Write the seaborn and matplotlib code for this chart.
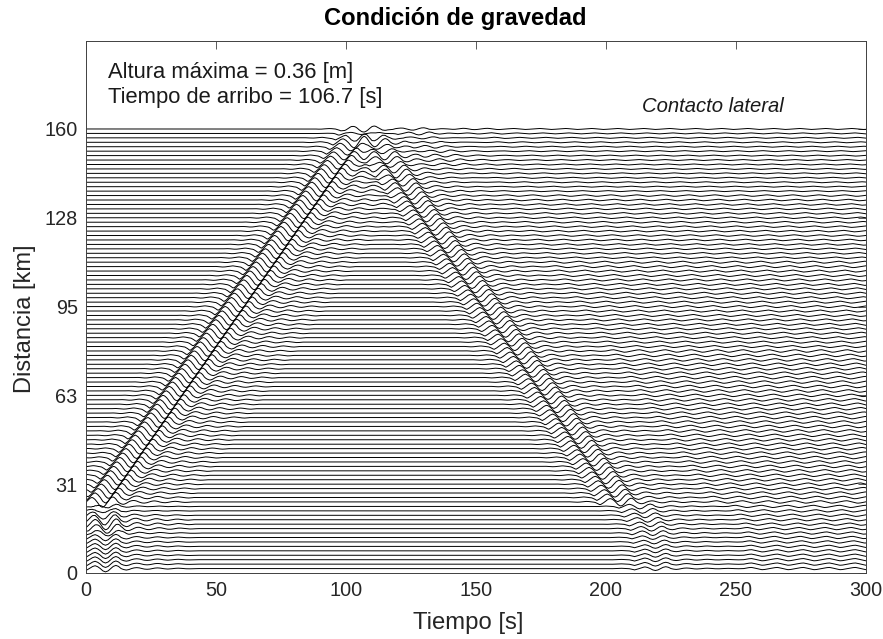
import numpy as np
import pandas as pd
import matplotlib
matplotlib.use("Agg")
import matplotlib.pyplot as plt
import seaborn as sns

TITLE = "Condición de gravedad"
XLABEL = "Tiempo [s]"
YLABEL = "Distancia [km]"
NOTE_HEIGHT = "Altura máxima = 0.36 [m]"
NOTE_ARRIVAL = "Tiempo de arribo = 106.7 [s]"
NOTE_CONTACT = "Contacto lateral"
x_ticks = [0, 50, 100, 150, 200, 250, 300]
y_tick_pos = [0, 32, 64, 96, 128, 160]
y_tick_labels = ["0", "31", "63", "95", "128", "160"]

# Station spacing: 100 traces, 1.6 km apart.
station_km = [1.6 * n for n in range(1, 101)]

# Pulse shape, one sample per second.
pulse_shape = [0, .02, .04, .02, -.03, -.07, -.05, .02, .1, .14, .08, -.02,
               -.08, -.35, -.7, -.35, .1, .6, .85, .55, 0, -.7, -1, -.7,
               0, .65, .95, .65, 0, -.3, -.45, -.3, 0, .2, .28, .2,
               0, -.16, -.22, -.16, 0, .14, .2, .14, 0, -.1, -.15, -.1,
               0, .08, .12, .08, 0, -.06, -.09, -.06, 0]
ring_cycle = [0, .4, .75, .9, .5, 0, -.5, -.9, -.75, -.4]

# Estimated arrival time [s] of each front at each trace (bottom to top).
arrival_up = [1.5] * 15 + [
    0.3, 1.5, 2.7, 3.9, 5.1, 6.3, 7.5, 8.7, 9.9, 11.1, 12.2, 13.4, 14.6, 15.8, 17.0,
    18.2, 19.4, 20.6, 21.8, 23.0, 24.2, 25.4, 26.5, 27.7, 28.9, 30.1, 31.3, 32.5, 33.7, 34.9,
    36.1, 37.3, 38.5, 39.7, 40.8, 42.0, 43.2, 44.4, 45.6, 46.8, 48.0, 49.2, 50.4, 51.6, 52.8,
    54.0, 55.1, 56.3, 57.5, 58.7, 59.9, 61.1, 62.3, 63.5, 64.7, 65.9, 67.1, 68.3, 69.4, 70.6,
    71.8, 73.0, 74.2, 75.4, 76.6, 77.8, 79.0, 80.2, 81.4, 82.6, 83.7, 84.9, 86.1, 87.3, 88.5,
    89.7, 90.9, 92.1, 93.3, 94.5, 95.7, 96.9, 98.0, 99.2, 100.0]
arrival_down = [
    217, 217, 217, 217, 217, 217, 216.5, 216, 216, 215.5, 215, 214, 213, 212, 211,
    203.7, 202.5, 201.4, 200.2, 199.0, 197.9, 196.7, 195.5, 194.4, 193.2, 192.0, 190.9, 189.7, 188.5, 187.4,
    186.2, 185.0, 183.9, 182.7, 181.5, 180.4, 179.2, 178.0, 176.9, 175.7, 174.5, 173.4, 172.2, 171.0, 169.9,
    168.7, 167.5, 166.4, 165.2, 164.0, 162.9, 161.7, 160.5, 159.4, 158.2, 157.0, 155.9, 154.7, 153.5, 152.4,
    151.2, 150.0, 148.9, 147.7, 146.5, 145.4, 144.2, 143.0, 141.9, 140.7, 139.5, 138.4, 137.2, 136.0, 134.9,
    133.7, 132.5, 131.4, 130.2, 129.0, 127.9, 126.7, 125.5, 124.4, 123.2, 122.0, 120.9, 119.7, 118.5, 117.4,
    116.2, 115.0, 113.9, 112.7, 111.5, 110.4, 109.2, 108.0, 106.9, 105.7]
arrival_near_down = [None] * 8 + [8.2, 7.0, 5.8, 4.6, 3.4, 2.2, 1.0] + [None] * 85
arrival_echo = [None] * 84 + [150, 148, 146, 144, 142, 140, 138, 136,
                              134, 132, 130, 128, 126, 124, 122, 120]

# Amplitudes [km] estimated per trace (bottom to top).
gain_up = [1.2] * 15 + [2.0] * 75 + [1.9, 1.8, 1.7, 1.6, 1.6, 1.5, 1.4, 1.2, 1.0, 0.8]
gain_down = [0.7] * 8 + [0.9] * 7 + [1.5] * 75 + [1.4, 1.4, 1.3, 1.3, 1.2, 1.1, 1.1, 1.0, 0.8, 0.7]
gain_ring = [0.45] * 15 + [0.5] * 35 + [0.4] * 20 + [0.3] * 15 + [0.2] * 15
gain_echo = [0] * 84 + [.03, .05, .08, .1, .13, .16, .2, .24, .28, .33, .38, .43, .48, .53, .58, .6]
time_s = [n / 2 for n in range(601)]

t = np.array(time_s)
idx = np.arange(len(pulse_shape))
UP_ANCHOR, DOWN_ANCHOR = 16, 20


def pulse(arrival, anchor):
    return np.interp(t - arrival + anchor, idx, pulse_shape, left=0, right=0)


frames = []
for i, y0 in enumerate(station_km):
    wave = gain_up[i] * pulse(arrival_up[i], UP_ANCHOR)
    wave += gain_down[i] * pulse(arrival_down[i], DOWN_ANCHOR)
    if arrival_near_down[i] is not None:
        wave += 0.9 * pulse(arrival_near_down[i], DOWN_ANCHOR)
    if arrival_echo[i] is not None:
        wave += gain_echo[i] * pulse(arrival_echo[i], UP_ANCHOR)
    # sustained ringing behind the downward front
    ring_start = arrival_down[i] + 36
    ring = np.interp(t - ring_start, np.arange(10), ring_cycle, period=10)
    wave += gain_ring[i] * ring * (t >= ring_start)
    frames.append(pd.DataFrame({"t": t, "y": y0 + wave, "trace": i}))
df = pd.concat(frames, ignore_index=True)

sns.set_theme(style="white")
plt.rcParams["font.family"] = ["Liberation Sans", "DejaVu Sans"]
fig = plt.figure(figsize=(8.83, 6.39), dpi=100)
ax = fig.add_axes([86 / 883, 1 - 573 / 639, (866 - 86) / 883, (573 - 41) / 639])

sns.lineplot(data=df, x="t", y="y", units="trace", estimator=None, sort=False,
             color="black", linewidth=0.7, ax=ax, legend=False)

ax.set_xlim(0, 300)
ax.set_ylim(0, 191.7)
ax.set_xticks(x_ticks)
ax.set_yticks(y_tick_pos)
ax.set_yticklabels(y_tick_labels)
ax.tick_params(axis="both", direction="in", top=True, right=True, length=5.5, width=0.6,
               color="#404040", labelcolor="#262626", labelsize=14.3, pad=6)
for s in ax.spines.values():
    s.set_visible(True)
    s.set_color("#404040")
    s.set_linewidth(0.7)
ax.set_xlabel(XLABEL, fontsize=17.2, color="#262626", va="center")
ax.set_ylabel(YLABEL, fontsize=17.0, color="#262626", va="center")
ax.xaxis.set_label_coords(0.49, -0.094)
ax.yaxis.set_label_coords(-0.078, 0.477)
ax.set_title(TITLE, fontsize=17.1, fontweight="bold", color="black",
             x=0.473, y=1.0415, va="center", pad=0)
ax.text(8.5, 180.5, NOTE_HEIGHT, fontsize=15.8, color="#1a1a1a", va="center")
ax.text(8.5, 171.5, NOTE_ARRIVAL, fontsize=15.8, color="#1a1a1a", va="center")
ax.text(214, 168, NOTE_CONTACT, fontsize=14.6, style="italic", color="#1a1a1a", va="center")

fig.savefig("out.png", dpi=100)
